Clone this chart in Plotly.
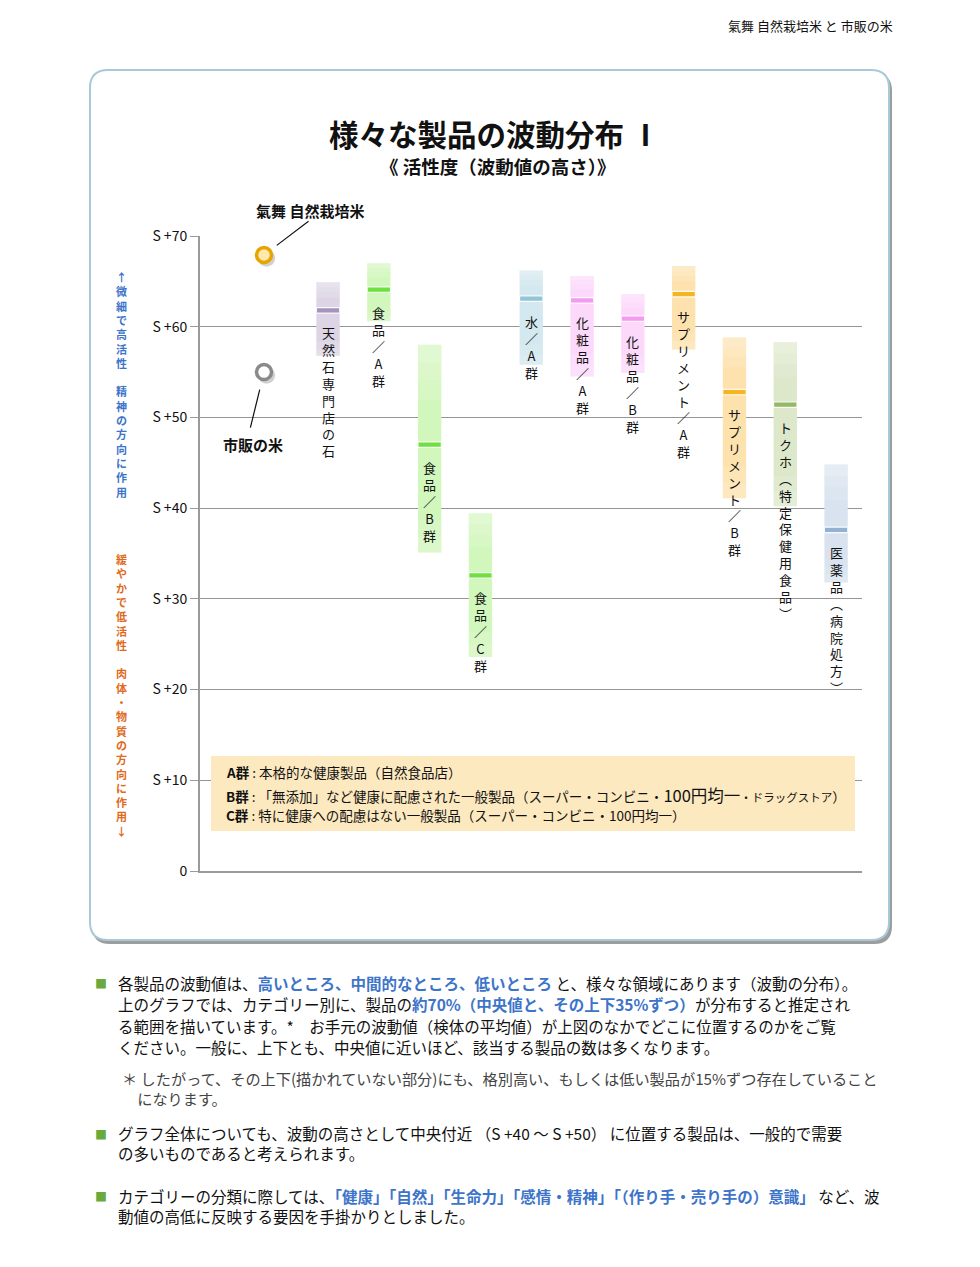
import plotly.graph_objects as go

# ---------------- data ----------------
categories = ["天然石専門店の石", "食品／A群", "食品／B群", "食品／C群", "水／A群",
              "化粧品／A群", "化粧品／B群", "サプリメント／A群", "サプリメント／B群",
              "トクホ（特定保健用食品）", "医薬品（病院処方）"]
range_high = [64.9, 67.0, 58.0, 39.4, 66.2, 65.6, 63.6, 66.7, 58.8, 58.3, 44.8]
range_low = [56.8, 60.6, 35.1, 23.6, 55.8, 54.5, 54.9, 57.5, 41.1, 40.2, 31.8]
median_vals = [61.8, 64.1, 47.0, 32.6, 63.1, 62.9, 60.9, 63.6, 52.8, 51.4, 37.6]

rice_names = ["氣舞 自然栽培米", "市販の米"]
rice_values = [67.9, 55.0]

tick_values = [0, 10, 20, 30, 40, 50, 60, 70]
tick_labels = ["0", "S +10", "S +20", "S +30", "S +40", "S +50", "S +60", "S +70"]

# ---------------- styles ----------------
fill_colors = ["#ddd5e6", "#d2f7bd", "#d2f7bd", "#d2f7bd", "#d3e8ef",
               "#fcd9fb", "#fcd9fb", "#fde2ad", "#fde2ad", "#dde8cb", "#d8e3ef"]
median_colors = ["#a593bd", "#6ee040", "#6ee040", "#6ee040", "#93c5d8",
                 "#f49af0", "#f49af0", "#f5b520", "#f5b520", "#93b866", "#93b2d2"]
rice_fill = ["#fde8b0", "#ffffff"]
rice_line = ["#e6a500", "#8a8a8a"]
BLUE = "#3d74c9"
ORANGE = "#e06a1a"
GREEN = "#6aaa3c"
FONT = "Noto Sans CJK JP"

# layout geometry (page pixels; the page places the figure at OFF, OFF)
OFF = 8
PAGE_W, PAGE_H = 980, 1267
L, T, W, H = 200, 236, 662, 635
FIG_W, FIG_H = PAGE_W - OFF, PAGE_H - OFF
RICE_X = -1.26
X_RANGE = [-2.52, 10.51]


def px(x):
    return (x - L) / W


def py(y):
    return (T + H - y) / H


fig = go.Figure()
n = len(categories)
xs = list(range(n))
BW = 0.46

# range bars
fig.add_trace(go.Bar(x=xs, base=range_low,
                     y=[h - l for h, l in zip(range_high, range_low)],
                     width=BW, marker=dict(color=fill_colors, line_width=0),
                     hoverinfo="skip"))
# gradient imitation on upper part (lighter towards the top)
for f0, f1, op in [(0.45, 0.65, 0.12), (0.65, 0.82, 0.22), (0.82, 1.0, 0.32)]:
    fig.add_trace(go.Bar(x=xs, base=[m + (h - m) * f0 for h, m in zip(range_high, median_vals)],
                         y=[(h - m) * (f1 - f0) for h, m in zip(range_high, median_vals)],
                         width=BW, marker=dict(color=f"rgba(255,255,255,{op})", line_width=0),
                         hoverinfo="skip"))
# lighter bottom part
for f0, f1, op in [(0.0, 0.15, 0.22), (0.15, 0.3, 0.11)]:
    fig.add_trace(go.Bar(x=xs, base=[l + (m - l) * f0 for m, l in zip(median_vals, range_low)],
                         y=[(m - l) * (f1 - f0) for m, l in zip(median_vals, range_low)],
                         width=BW, marker=dict(color=f"rgba(255,255,255,{op})", line_width=0),
                         hoverinfo="skip"))
# median stripes
fig.add_trace(go.Bar(x=xs, base=[m - 0.3 for m in median_vals], y=[0.6] * n,
                     width=BW, marker=dict(color=median_colors,
                                           line=dict(color="rgba(255,255,255,0.9)", width=1.2)),
                     hoverinfo="skip"))

# rice points (shadow + marker)
fig.add_trace(go.Scatter(x=[RICE_X + 0.05] * 2, y=[v - 0.35 for v in rice_values],
                         mode="markers", marker=dict(size=17, color="rgba(0,0,0,0.18)"),
                         hoverinfo="skip"))
fig.add_trace(go.Scatter(x=[RICE_X] * 2, y=rice_values, mode="markers",
                         marker=dict(size=15, color=rice_fill,
                                     line=dict(color=rice_line, width=3.5)),
                         hoverinfo="skip"))

# callout lines and labels for rice
callouts = [dict(ax=46, ay=-35, standoff=16, tx=46, ty=45),
            dict(ax=-14, ay=57, standoff=18, tx=-11, ty=-72)]
for name, v, c in zip(rice_names, rice_values, callouts):
    fig.add_annotation(x=RICE_X, y=v, xref="x", yref="y", text="", showarrow=True,
                       arrowhead=0, arrowwidth=1.2, arrowcolor="#111",
                       ax=c["ax"], ay=c["ay"], standoff=c["standoff"])
    fig.add_annotation(x=RICE_X, y=v, xref="x", yref="y", text=f"<b>{name}</b>",
                       showarrow=False, xshift=c["tx"], yshift=c["ty"],
                       font=dict(family=FONT, size=15, color="#111"))

# vertical category labels
vmap = {"（": "︵", "）": "︶"}
for i, (cat, m) in enumerate(zip(categories, median_vals)):
    chars = [vmap.get(ch, ch) for ch in cat]
    fig.add_annotation(x=i, y=m, xref="x", yref="y", text="<br>".join(chars),
                       showarrow=False, yanchor="top", xanchor="center", yshift=-11,
                       font=dict(family=FONT, size=13, color="#111"))

# ---------------- layout ----------------
fig.update_layout(
    width=FIG_W, height=FIG_H,
    margin=dict(l=L - OFF, r=FIG_W - (L - OFF) - W, t=T - OFF, b=FIG_H - (T - OFF) - H),
    paper_bgcolor="white", plot_bgcolor="rgba(0,0,0,0)",
    barmode="overlay", showlegend=False,
    font=dict(family=FONT),
    xaxis=dict(range=X_RANGE, showticklabels=False, showgrid=False, zeroline=False,
               showline=True, linecolor="#9a9a9a", linewidth=1.5, ticks="", fixedrange=True),
    yaxis=dict(range=[0, 70], tickvals=tick_values, ticktext=tick_labels,
               showgrid=True, gridcolor="#959595", gridwidth=1.3, zeroline=False,
               showline=True, linecolor="#9a9a9a", linewidth=2,
               ticks="outside", ticklen=8, tickcolor="#9a9a9a", tickwidth=1.3,
               tickfont=dict(family=FONT, size=14, color="#111"), fixedrange=True),
)


def rounded_rect(x0, y0, x1, y1, r):
    rx, ry = r / W, r / H
    X0, X1 = px(x0), px(x1)
    Y0, Y1 = py(y0), py(y1)  # Y0 top, Y1 bottom
    return (f"M {X0 + rx},{Y0} L {X1 - rx},{Y0} Q {X1},{Y0} {X1},{Y0 - ry} "
            f"L {X1},{Y1 + ry} Q {X1},{Y1} {X1 - rx},{Y1} "
            f"L {X0 + rx},{Y1} Q {X0},{Y1} {X0},{Y1 + ry} "
            f"L {X0},{Y0 - ry} Q {X0},{Y0} {X0 + rx},{Y0} Z")


shapes = [
    # box shadow
    dict(type="path", xref="paper", yref="paper", path=rounded_rect(92, 73, 892, 944, 18),
         fillcolor="#9d9d9d", line=dict(width=0), layer="below"),
    dict(type="path", xref="paper", yref="paper", path=rounded_rect(90, 70, 889, 940, 18),
         fillcolor="#ffffff", line=dict(color="#a7c9da", width=2), layer="below"),
    # legend box
    dict(type="rect", xref="paper", yref="paper", x0=px(211), x1=px(855), y0=py(831), y1=py(756),
         fillcolor="#fde9bf", line=dict(width=0), layer="above"),
]
fig.update_layout(shapes=shapes)


def ann(x, y, text, size, color="#111", xanchor="left", bold=False, **kw):
    if bold:
        text = f"<b>{text}</b>"
    fig.add_annotation(x=px(x), y=py(y), xref="paper", yref="paper", text=text,
                       showarrow=False, xanchor=xanchor, yanchor="middle",
                       font=dict(family=FONT, size=size, color=color), **kw)


# header / titles
ann(895, 26, "氣舞 自然栽培米 と 市販の米", 13, xanchor="right")
ann(494, 133, "様々な製品の波動分布 Ⅰ", 29.5, xanchor="center", bold=True)
ann(497, 166, "《 活性度（波動値の高さ）》", 18.5, xanchor="center", bold=True)

# left vertical labels (stacked glyphs, one text block each)
blue_text = "↑微細で高活性　精神の方向に作用"
orange_text = "緩やかで低活性　肉体・物質の方向に作用↓"
ann(121, 384, "<br>".join(blue_text), 11, color=BLUE, xanchor="center", bold=True)
ann(121, 695, "<br>".join(orange_text), 11, color=ORANGE, xanchor="center", bold=True)

# legend box text
ann(224, 772, "<b>A群</b> : 本格的な健康製品（自然食品店）", 13.5)
ann(224, 795, "<b>B群</b> : 「無添加」など健康に配慮された一般製品（スーパー・コンビニ・"
    "<span style='font-size:16.5px'>100円均一</span><span style='font-size:11.5px'>・ドラッグストア</span>）", 13.5)
ann(224, 815, "<b>C群</b> : 特に健康への配慮はない一般製品（スーパー・コンビニ・100円均一）", 13.5)

# bottom text
for yb in (983, 1134, 1196):
    ann(101, yb, "■", 12, color=GREEN, xanchor="center")


def bl(t):
    return f"<span style='color:{BLUE}'><b>{t}</b></span>"


para1_lines = [
    "各製品の波動値は、" + bl("高いところ、中間的なところ、低いところ") +
    " と、様々な領域にあります（波動の分布）。",
    "上のグラフでは、カテゴリー別に、製品の" + bl("約70%（中央値と、その上下35%ずつ）") +
    "が分布すると推定され",
    "る範囲を描いています。*　お手元の波動値（検体の平均値）が上図のなかでどこに位置するのかをご覧",
    "ください。一般に、上下とも、中央値に近いほど、該当する製品の数は多くなります。",
]
for yl, line in zip((983, 1004.3, 1025.6, 1047), para1_lines):
    ann(116, yl, line, 15.5)

foot = "<br>".join([
    "＊ したがって、その上下(描かれていない部分)にも、格別高い、もしくは低い製品が15%ずつ存在していること",
    "　になります。",
])
ann(120, 1088, foot, 15.2, color="#444", align="left")

para2 = "<br>".join([
    "グラフ全体についても、波動の高さとして中央付近 （S +40 ～ S +50） に位置する製品は、一般的で需要",
    "の多いものであると考えられます。",
])
ann(116, 1143, para2, 15.5, align="left")

para3 = "<br>".join([
    "カテゴリーの分類に際しては、" + bl("「健康」「自然」「生命力」「感情・精神」「（作り手・売り手の）意識」") +
    " など、波",
    "動値の高低に反映する要因を手掛かりとしました。",
])
ann(116, 1205.5, para3, 15.5, align="left")

fig.write_html("out.html")
